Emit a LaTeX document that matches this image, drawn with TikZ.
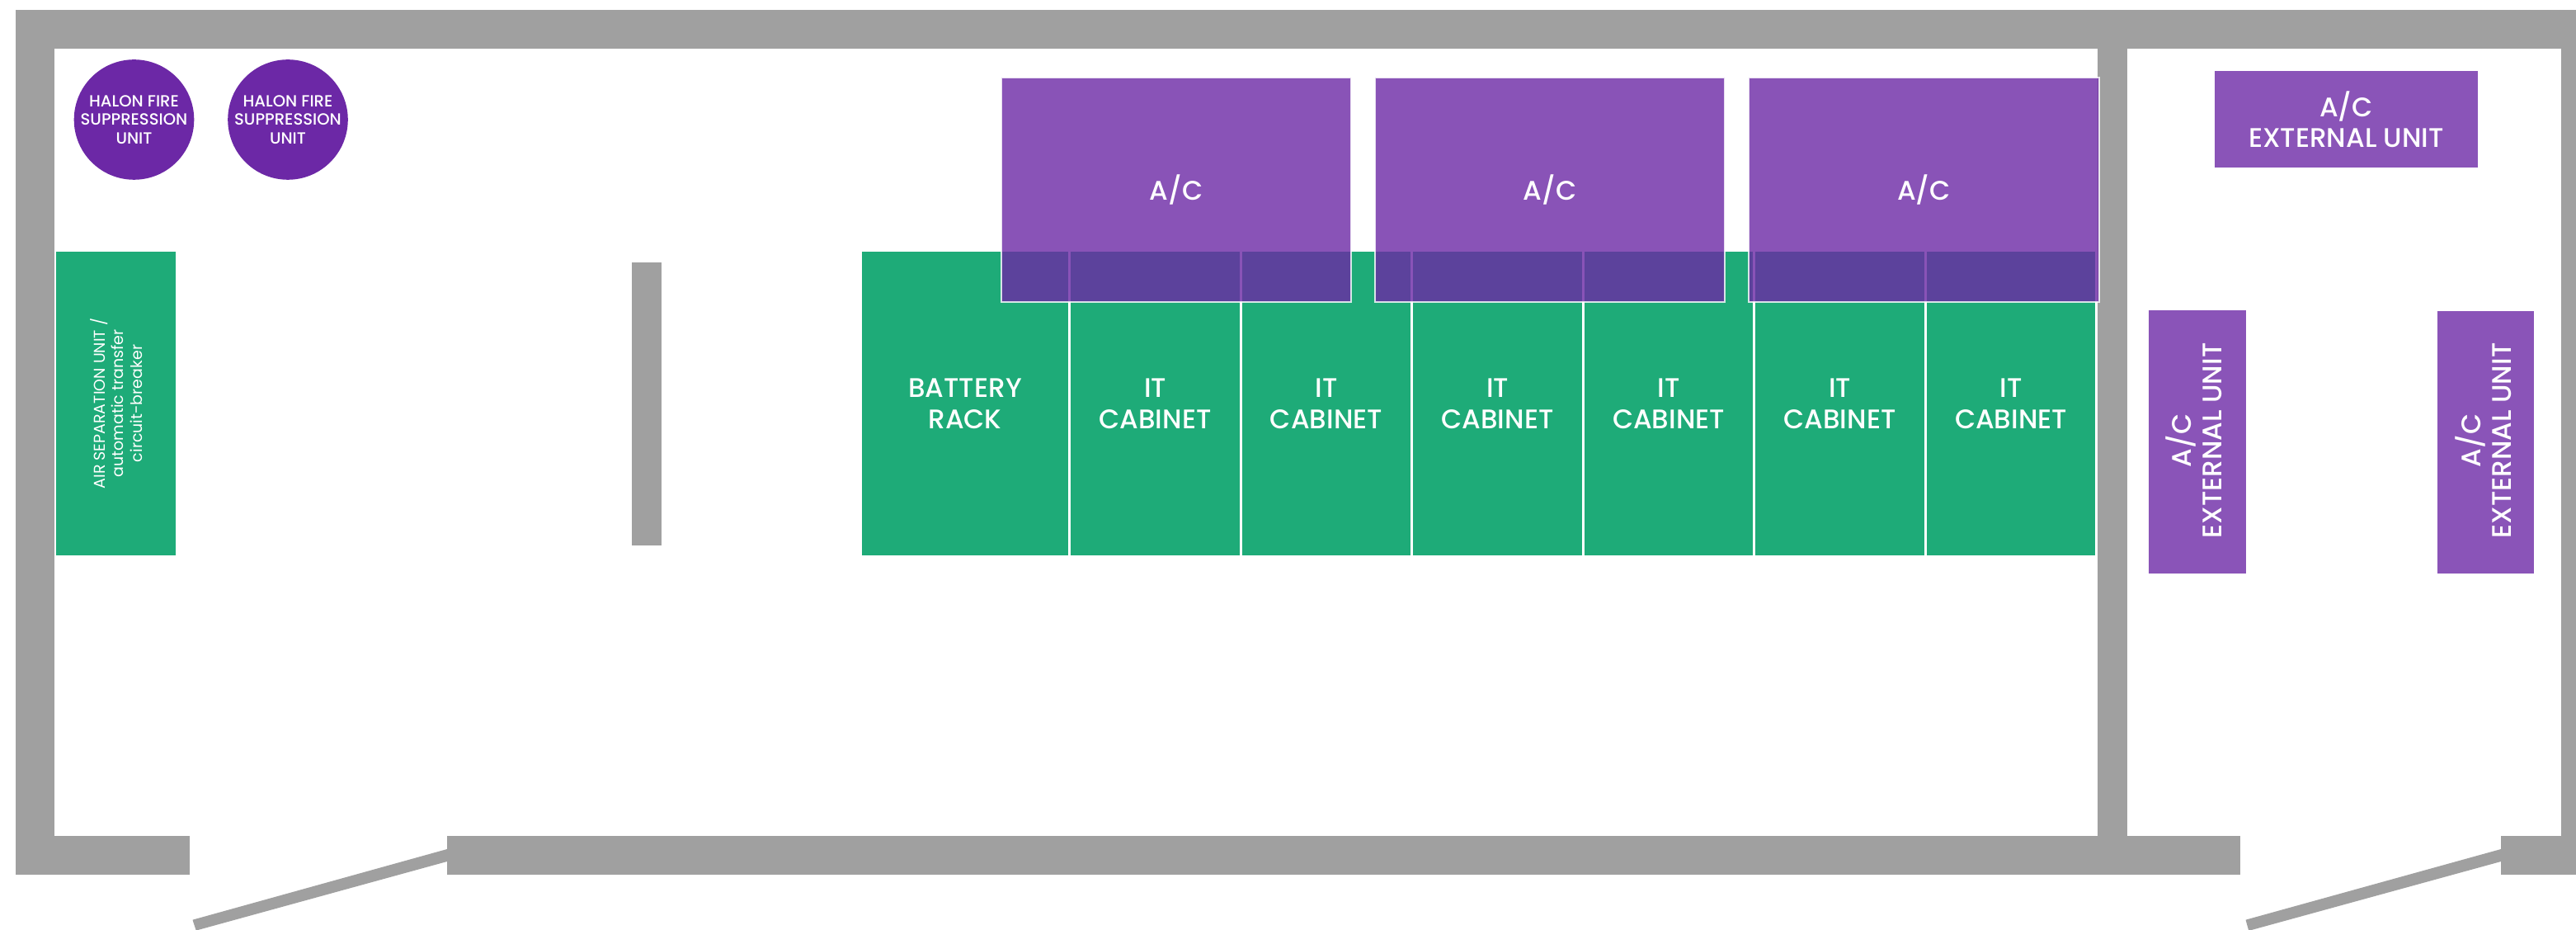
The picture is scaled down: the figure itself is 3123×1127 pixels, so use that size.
\documentclass[tikz,border=0pt]{standalone}
\usepackage{fontspec}
\setmainfont{Poppins}
\newfontfamily\halonfont{Poppins Medium}
\definecolor{wallgrey}{HTML}{A0A0A0}
\definecolor{rackgreen}{HTML}{1EAB78}
\definecolor{acpurple}{HTML}{6C28A6}
\definecolor{extpurple}{HTML}{8A54B8}
\newcommand{\wallrect}[4]{\fill[wallgrey] (#1,#2) rectangle (#3,#4);}
\newcommand{\unitbox}[6]{\node[#1,minimum width={(#5-#3)*0.5pt},minimum height={(#6-#4)*0.5pt}] (#2) at ({(#3+#5)/2},{(#4+#6)/2})}
\tikzset{
  every node/.style={inner sep=0pt,outer sep=0pt,align=center,text=white},
  mainlabel/.style={font=\halonfont\fontsize{16.3}{19.2}\selectfont},
  rackbox/.style={rectangle,fill=rackgreen,mainlabel,text depth=0pt},
  acbox/.style={rectangle,fill=acpurple,fill opacity=.8,text opacity=1,draw=white,draw opacity=.8,line width=1.3pt,mainlabel},
  extbox/.style={rectangle,fill=extpurple,font=\halonfont\fontsize{16.3}{18.6}\selectfont},
  halon/.style={circle,fill=acpurple,minimum size=72.8pt,font=\halonfont\fontsize{9.8}{11.25}\selectfont},
}
\begin{document}
\begin{tikzpicture}[x=0.5pt,y=-0.5pt]
\fill[white] (0,0) rectangle (3123,1127);
\useasboundingbox (0,0) rectangle (3123,1127);
% walls
\wallrect{19}{12}{3123}{59}
\wallrect{19}{12}{66}{1060}
\wallrect{19}{1013}{230}{1060}
\wallrect{542}{1013}{2716}{1060}
\wallrect{3032}{1013}{3123}{1060}
\wallrect{2543}{12}{2579}{1060}
\wallrect{3105}{12}{3123}{1060}
\wallrect{766}{318}{802}{661}
% doors
\fill[wallgrey] (542,1029) -- (233.5,1114.7) -- (237.5,1127) -- (240,1127) -- (542,1044) -- cycle;
\fill[wallgrey] (3032,1029) -- (2722.5,1114.7) -- (2726,1127) -- (2729.6,1127) -- (3032,1044) -- cycle;
% halon units
\node[halon] (halonA) at (162.5,145) {HALON FIRE\\SUPPRESSION\\UNIT};
\node[halon] (halonB) at (349,145) {HALON FIRE\\SUPPRESSION\\UNIT};
% racks
\unitbox{rackbox}{air}{68}{305}{213}{673} {};
\node[rotate=90,font=\fontsize{9.5}{11.25}\selectfont] (airtext) at (141,489) {AIR SEPARATION UNIT /\\automatic transfer\\circuit-breaker};
\unitbox{rackbox}{rack}{1045}{305}{1295}{673} {BATTERY\\RACK};
\unitbox{rackbox}{itA}{1298}{305}{1503}{673} {IT\\CABINET};
\unitbox{rackbox}{itB}{1506}{305}{1710}{673} {IT\\CABINET};
\unitbox{rackbox}{itC}{1713}{305}{1918}{673} {IT\\CABINET};
\unitbox{rackbox}{itD}{1921}{305}{2125}{673} {IT\\CABINET};
\unitbox{rackbox}{itE}{2128}{305}{2333}{673} {IT\\CABINET};
\unitbox{rackbox}{itF}{2336}{305}{2540}{673} {IT\\CABINET};
% indoor A/C
\unitbox{acbox}{acA}{1214}{94}{1638}{366} {A/C};
\unitbox{acbox}{acB}{1667}{94}{2091}{366} {A/C};
\unitbox{acbox}{acC}{2120}{94}{2545}{366} {A/C};
% external units
\unitbox{extbox}{extA}{2685}{86}{3004}{203} {A/C\\EXTERNAL UNIT};
\fill[extpurple] (2605,376) rectangle (2723,695);
\node[rotate=90,font=\halonfont\fontsize{16.3}{18.6}\selectfont] (extB) at (2660,534) {A/C\\EXTERNAL UNIT};
\fill[extpurple] (2955,377) rectangle (3072,695);
\node[rotate=90,font=\halonfont\fontsize{16.3}{18.6}\selectfont] (extC) at (3011,534) {A/C\\EXTERNAL UNIT};
\end{tikzpicture}
\end{document}
